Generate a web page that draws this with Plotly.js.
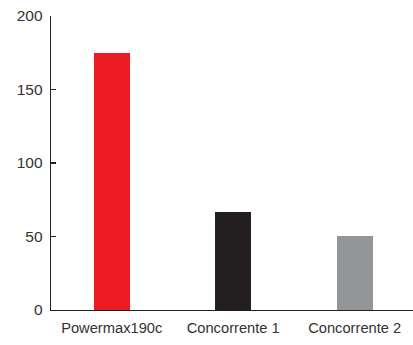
<!DOCTYPE html>
<html>
<head>
<meta charset="utf-8">
<script src="https://cdn.plot.ly/plotly-3.0.1.min.js"></script>
<style>
  html, body { margin: 0; padding: 0; background: #ffffff; }
  #chart { width: 413px; height: 345px; }
</style>
</head>
<body>
<div id="chart"></div>
<script>
// Product names along the x axis
const products = ["Powermax190c", "Concorrente 1", "Concorrente 2"];
// Measured value for each product
const values = [175, 67, 50.5];
// One fill per product
const barColors = ["#ED1C24", "#231F20", "#939598"];
// Y axis tick values
const yTicks = [0, 50, 100, 150, 200];

const trace = {
  type: "bar",
  x: [0, 1, 2],
  y: values,
  width: 0.296,
  marker: { color: barColors, line: { width: 0 } },
  hoverinfo: "skip"
};

const layout = {
  width: 413,
  height: 345,
  margin: { l: 51, r: 0, t: 16, b: 34.5 },
  paper_bgcolor: "#ffffff",
  plot_bgcolor: "#ffffff",
  font: { family: "Liberation Sans, Arial, sans-serif", size: 14, color: "#333333" },
  showlegend: false,
  bargap: 0,
  xaxis: {
    range: [-0.5, 2.48],
    tickmode: "array",
    tickvals: [0, 1, 2],
    ticktext: products,
    ticks: "",
    showgrid: false,
    zeroline: false,
    showline: true,
    linecolor: "#231F20",
    linewidth: 1.3,
    tickfont: { size: 14.7, color: "#333333" },
    ticklabelstandoff: 4,
    fixedrange: true
  },
  yaxis: {
    range: [0, 200],
    tickmode: "array",
    tickvals: yTicks,
    ticktext: yTicks.map(String),
    ticks: "inside",
    ticklen: 5,
    tickwidth: 1.3,
    tickcolor: "#231F20",
    showgrid: false,
    zeroline: false,
    showline: true,
    linecolor: "#231F20",
    linewidth: 1.3,
    tickfont: { size: 15.5, color: "#333333" },
    ticklabelstandoff: 4,
    fixedrange: true
  }
};

Plotly.newPlot("chart", [trace], layout, { staticPlot: true, displayModeBar: false });
</script>
</body>
</html>
